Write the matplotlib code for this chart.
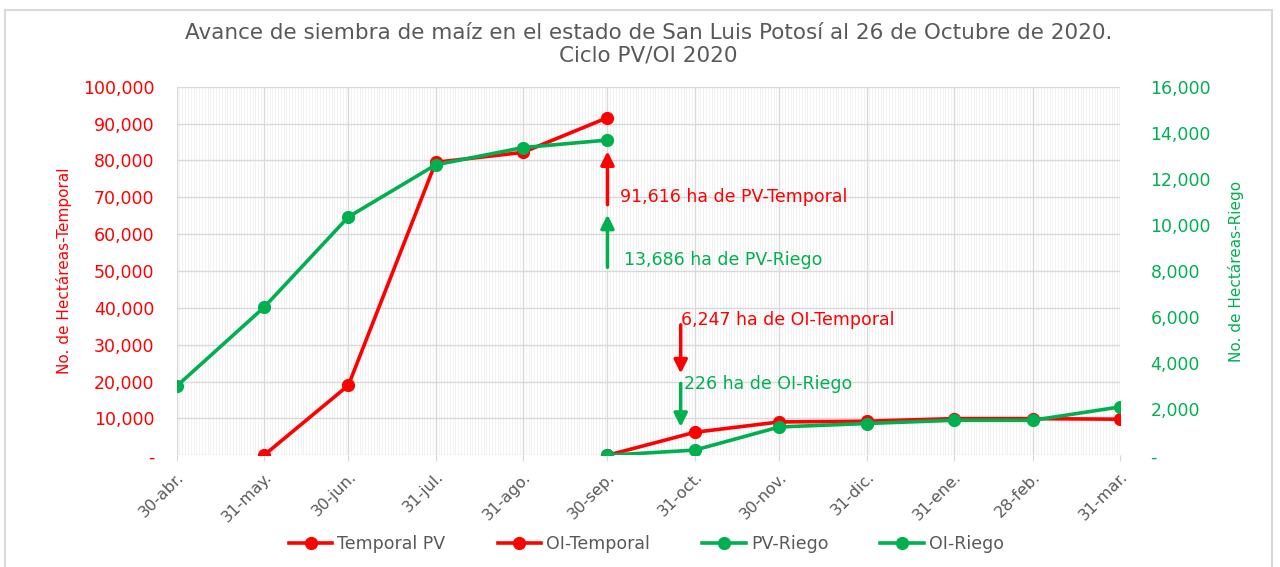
import matplotlib
matplotlib.use("Agg")
import numpy as np
import pandas as pd
import matplotlib.pyplot as plt
import matplotlib.dates as mdates
from matplotlib.ticker import FuncFormatter, MultipleLocator
from matplotlib.patches import Rectangle

plt.rcParams['font.family'] = ['DejaVu Sans']

# =========================
# Datos
# =========================
fechas_tick = ["2020-04-30", "2020-05-31", "2020-06-30", "2020-07-31", "2020-08-31", "2020-09-30",
               "2020-10-31", "2020-11-30", "2020-12-31", "2021-01-31", "2021-02-28", "2021-03-31"]
etiquetas_tick = ["30-abr.", "31-may.", "30-jun.", "31-jul.", "31-ago.", "30-sep.",
                  "31-oct.", "30-nov.", "31-dic.", "31-ene.", "28-feb.", "31-mar."]

fechas_pv_temp = ["2020-05-31", "2020-06-30", "2020-07-31", "2020-08-31", "2020-09-30"]
temporal_pv = [0, 19000, 79500, 82200, 91616]

fechas_oi = ["2020-09-30", "2020-10-31", "2020-11-30", "2020-12-31", "2021-01-31", "2021-02-28", "2021-03-31"]
oi_temporal = [0, 6247, 9050, 9250, 9950, 9950, 9800]
oi_riego = [0, 226, 1230, 1380, 1520, 1520, 2100]

fechas_pv_riego = ["2020-04-30", "2020-05-31", "2020-06-30", "2020-07-31", "2020-08-31", "2020-09-30"]
pv_riego = [3000, 6420, 10350, 12610, 13360, 13686]

ROJO = "#FF0000"
VERDE = "#00B050"
GRIS = "#595959"

fig = plt.figure(figsize=(12.8, 5.67), dpi=100)
ax = fig.add_axes([0.138, 0.197, 0.737, 0.65])
ax2 = ax.twinx()

# marco del grafico
fig.patches.append(Rectangle((0.004, -0.01), 0.99, 0.992, transform=fig.transFigure,
                             fill=False, edgecolor="#D9D9D9", lw=1.5))

d = lambda lst: pd.to_datetime(lst)

ax.plot(d(fechas_pv_temp), temporal_pv, color=ROJO, lw=2.6, marker="o", ms=8.5, label="Temporal PV")
ax.plot(d(fechas_oi), oi_temporal, color=ROJO, lw=2.6, marker="o", ms=8.5, label="OI-Temporal")
ax2.plot(d(fechas_pv_riego), pv_riego, color=VERDE, lw=2.6, marker="o", ms=8.5, label="PV-Riego")
ax2.plot(d(fechas_oi), oi_riego, color=VERDE, lw=2.6, marker="o", ms=8.5, label="OI-Riego")

# ejes
ax.set_xlim(pd.Timestamp("2020-04-30"), pd.Timestamp("2021-03-31"))
ax.set_ylim(0, 100000)
ax2.set_ylim(0, 16000)
ax.yaxis.set_major_locator(MultipleLocator(10000))
ax2.yaxis.set_major_locator(MultipleLocator(2000))
fmt = FuncFormatter(lambda v, p: f"{v:,.0f}" if v else "-")
ax.yaxis.set_major_formatter(fmt)
ax2.yaxis.set_major_formatter(fmt)

ax.set_xticks(d(fechas_tick))
ax.set_xticklabels(etiquetas_tick, rotation=45, ha="right", rotation_mode="anchor")
ax.xaxis.set_minor_locator(mdates.DayLocator())

ax.tick_params(axis="x", colors=GRIS, labelsize=11.5, length=4, color="#D9D9D9", pad=6)
ax.tick_params(axis="x", which="minor", length=0)
ax.tick_params(axis="y", colors=ROJO, labelsize=12.5, length=0, pad=16)
ax2.tick_params(axis="y", colors=VERDE, labelsize=12.5, length=0, pad=22)

ax.grid(axis="x", which="minor", color="#F0F0F0", lw=0.6)
ax.grid(axis="x", which="major", color="#D9D9D9", lw=1)
ax.grid(axis="y", which="major", color="#D9D9D9", lw=1)
ax.set_axisbelow(True)
for a in (ax, ax2):
    for s in a.spines.values():
        s.set_visible(False)

ax.set_ylabel("No. de Hectáreas-Temporal", color=ROJO, fontsize=11, labelpad=8)
ax2.set_ylabel("No. de Hectáreas-Riego", color=VERDE, fontsize=11, labelpad=12)

ax.set_title("Avance de siembra de maíz en el estado de San Luis Potosí al 26 de Octubre de 2020.\nCiclo PV/OI 2020",
             color=GRIS, fontsize=15.5, pad=18, linespacing=1.2)

# anotaciones
flecha = dict(arrowstyle="-|>,head_width=0.4,head_length=0.8", lw=2.5, shrinkA=0, shrinkB=0)
sep30 = pd.Timestamp("2020-09-30")
oct26 = pd.Timestamp("2020-10-26")
ax.annotate("", xy=(sep30, 82500), xytext=(sep30, 68000), arrowprops=dict(flecha, color=ROJO))
ax.annotate("", xy=(sep30, 65300), xytext=(sep30, 51000), arrowprops=dict(flecha, color=VERDE))
ax.annotate("", xy=(oct26, 22200), xytext=(oct26, 35400), arrowprops=dict(flecha, color=ROJO))
ax.annotate("", xy=(oct26, 7700), xytext=(oct26, 19500), arrowprops=dict(flecha, color=VERDE))
ax.text(sep30 + pd.Timedelta(days=4.5), 70000, "91,616 ha de PV-Temporal", color=ROJO, fontsize=12.5, va="center")
ax.text(sep30 + pd.Timedelta(days=6), 52900, "13,686 ha de PV-Riego", color=VERDE, fontsize=12.5, va="center")
ax.text(oct26, 36700, "6,247 ha de OI-Temporal", color=ROJO, fontsize=12.5, va="center")
ax.text(oct26 + pd.Timedelta(days=1), 19300, "226 ha de OI-Riego", color=VERDE, fontsize=12.5, va="center")

# leyenda
h1, l1 = ax.get_legend_handles_labels()
h2, l2 = ax2.get_legend_handles_labels()
fig.legend(h1 + h2, l1 + l2, loc="center", bbox_to_anchor=(0.505, 0.04), ncol=4, frameon=False,
           fontsize=12.5, labelcolor=GRIS, handlelength=2.5, handletextpad=0.3, columnspacing=3.0)

fig.savefig("out.png", dpi=100)
